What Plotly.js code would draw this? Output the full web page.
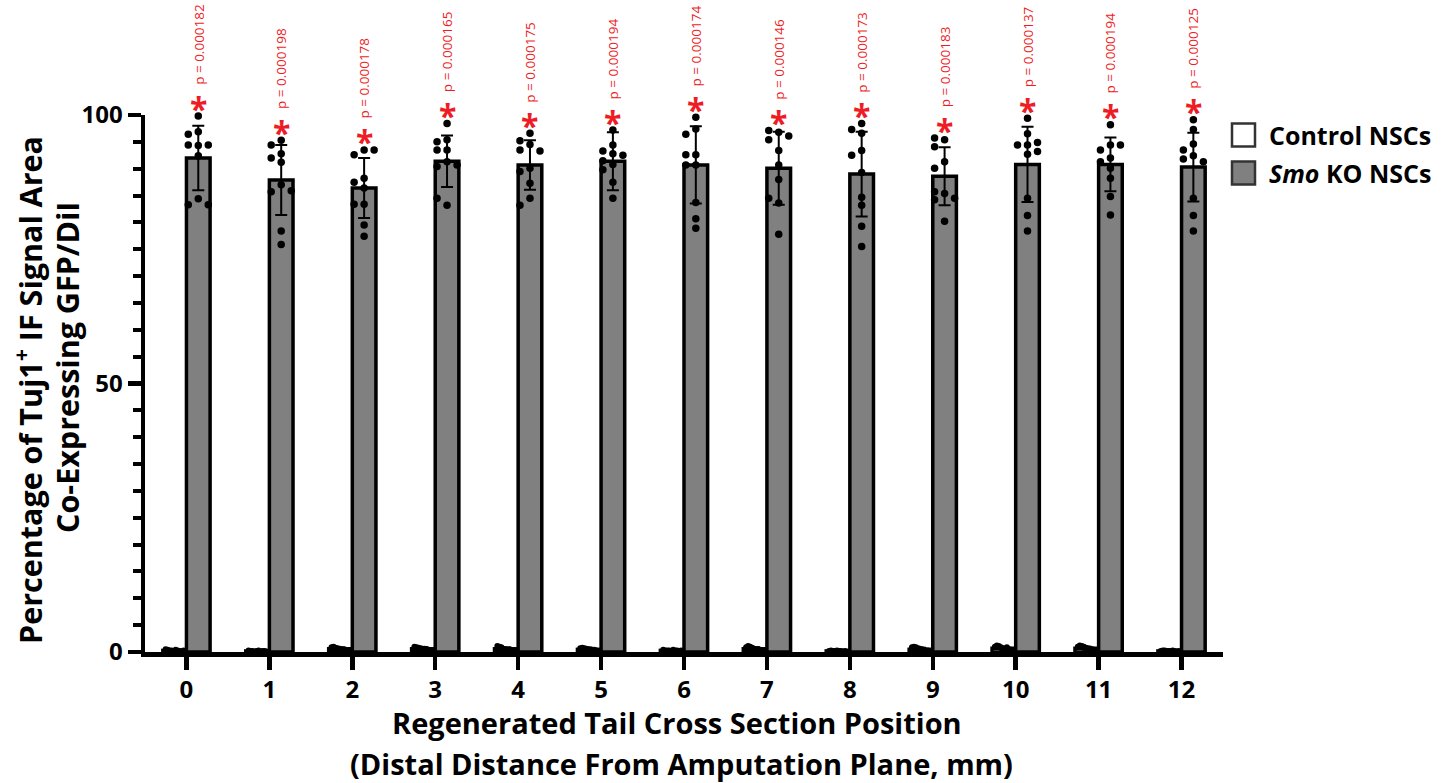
<!DOCTYPE html>
<html>
<head>
<meta charset="utf-8">
<script src="https://cdn.plot.ly/plotly-3.0.1.min.js"></script>
<style>html,body{margin:0;padding:0;background:#fff;}#chart{width:1455px;height:783px;}</style>
</head>
<body>
<div id="chart"></div>
<script>
// ---------------- data ----------------
const categories = [0, 1, 2, 3, 4, 5, 6, 7, 8, 9, 10, 11, 12];
const tickLabels = ['0','1','2','3','4','5','6','7','8','9','10','11','12'];

const koMean = [92.0, 87.9, 86.4, 91.4, 90.7, 91.4, 90.7, 90.1, 89.0, 88.6, 90.8, 90.8, 90.3];
const koSD   = [6.0, 6.5, 5.6, 4.8, 4.6, 5.4, 7.2, 6.8, 7.9, 5.4, 7.0, 5.0, 6.4];
const ctrlMean = [0.3, 0.2, 0.6, 0.6, 0.6, 0.5, 0.3, 0.6, 0.2, 0.5, 0.7, 0.7, 0.2];
const ctrlSD   = [0.2, 0.1, 0.3, 0.3, 0.3, 0.2, 0.2, 0.3, 0.1, 0.3, 0.3, 0.3, 0.1];

const pValues = ['0.000182','0.000198','0.000178','0.000165','0.000175','0.000194','0.000174',
                 '0.000146','0.000173','0.000183','0.000137','0.000194','0.000125'];

const ko0  = [99.8, 96.9, 96.4, 94.3, 94.4, 94.4, 92.4, 84.4, 83.3, 83.3];
const ko1  = [95.3, 94.4, 92.8, 92.0, 91.2, 87.0, 85.7, 85.9, 78.4, 75.9];
const ko2  = [93.5, 92.6, 93.5, 88.2, 87.5, 86.4, 83.4, 83.4, 79.5, 77.4];
const ko3  = [98.4, 95.4, 95.0, 93.5, 93.5, 91.3, 90.4, 90.7, 83.2, 84.5];
const ko4  = [96.6, 95.2, 94.5, 93.5, 93.3, 90.1, 89.5, 87.3, 84.5, 83.2];
const ko5  = [97.2, 94.4, 93.3, 92.8, 92.5, 91.5, 90.8, 89.8, 87.5, 84.5];
const ko6  = [99.6, 97.4, 96.4, 92.6, 92.6, 90.7, 90.7, 83.7, 80.7, 78.9];
const ko7  = [96.8, 97.1, 96.1, 95.4, 93.4, 90.7, 88.0, 83.6, 84.5, 77.8];
const ko8  = [98.4, 97.3, 96.6, 93.4, 92.5, 89.3, 84.7, 83.2, 79.3, 75.5];
const ko9  = [95.4, 95.7, 94.1, 91.3, 90.1, 85.4, 85.7, 84.2, 84.5, 80.2];
const ko10 = [99.4, 96.5, 94.4, 94.4, 94.9, 92.7, 93.2, 84.5, 81.3, 78.4];
const ko11 = [98.2, 94.4, 93.5, 94.4, 92.0, 91.3, 90.1, 88.2, 84.8, 81.4];
const ko12 = [99.1, 97.3, 94.6, 93.5, 92.4, 91.8, 91.3, 84.5, 81.3, 78.4];

const ctrl0  = [0.5, 0.4, 0.3, 0.3, 0.2, 0.4, 0.3, 0.2, 0.1, 0.3];
const ctrl1  = [0.3, 0.2, 0.2, 0.1, 0.2, 0.3, 0.1, 0.2, 0.2, 0.1];
const ctrl2  = [0.9, 1.0, 0.8, 0.7, 0.6, 0.5, 0.4, 0.4, 0.3, 0.3];
const ctrl3  = [1.0, 0.9, 0.8, 0.7, 0.6, 0.6, 0.5, 0.4, 0.3, 0.3];
const ctrl4  = [1.1, 1.0, 0.9, 0.6, 0.5, 0.4, 0.4, 0.3, 0.3, 0.2];
const ctrl5  = [0.7, 0.8, 0.7, 0.6, 0.5, 0.5, 0.4, 0.4, 0.3, 0.2];
const ctrl6  = [0.4, 0.3, 0.3, 0.3, 0.2, 0.4, 0.3, 0.3, 0.2, 0.3];
const ctrl7  = [0.9, 1.1, 1.0, 0.8, 0.6, 0.5, 0.5, 0.4, 0.3, 0.2];
const ctrl8  = [0.2, 0.3, 0.2, 0.2, 0.3, 0.2, 0.2, 0.1, 0.2, 0.1];
const ctrl9  = [0.9, 1.0, 0.9, 0.7, 0.6, 0.5, 0.4, 0.3, 0.3, 0.2];
const ctrl10 = [1.0, 1.2, 1.1, 0.9, 0.7, 0.6, 0.9, 0.5, 0.4, 0.3];
const ctrl11 = [1.0, 1.2, 1.1, 1.0, 0.8, 0.7, 0.6, 0.5, 0.4, 0.3];
const ctrl12 = [0.2, 0.3, 0.3, 0.2, 0.2, 0.2, 0.3, 0.2, 0.1, 0.2];

const koPoints = [ko0, ko1, ko2, ko3, ko4, ko5, ko6, ko7, ko8, ko9, ko10, ko11, ko12];
const ctrlPoints = [ctrl0, ctrl1, ctrl2, ctrl3, ctrl4, ctrl5, ctrl6, ctrl7, ctrl8, ctrl9, ctrl10, ctrl11, ctrl12];

// ---------------- layout constants ----------------
const W = 1455, H = 783;
const M = {l: 145, r: 232, t: 115, b: 131};
const plotW = W - M.l - M.r, plotH = H - M.t - M.b;
const xRange = [-0.5, 12.5], yRange = [0, 100];
const pxPerX = plotW / (xRange[1] - xRange[0]);
const pxPerY = plotH / (yRange[1] - yRange[0]);
const BARGAP = 0.43;
const barW = (1 - BARGAP) / 2;
const RED = '#ee1c25';
const FONT_B = {family: '"Open Sans", sans-serif', weight: 700, color: '#000'};

// beeswarm offsets for KO dots (in px), computed to avoid overlap
function swarm(vals, dotPx) {
  const placed = [];
  const cand = [0, -10, 10, -20, 20, -30, 30];
  return vals.map(v => {
    const yp = v * pxPerY;
    let off = 0;
    for (const c of cand) {
      const ok = placed.every(p => Math.hypot(p.x - c, p.y - yp) >= dotPx);
      if (ok) { off = c; break; }
    }
    placed.push({x: off, y: yp});
    return off;
  });
}

const koX = [], koY = [], ctX = [], ctY = [];
categories.forEach((c, i) => {
  const offs = swarm(koPoints[i], 7.6);
  koPoints[i].forEach((v, j) => { koX.push(c + barW / 2 + offs[j] / pxPerX); koY.push(v); });
  const n = ctrlPoints[i].length;
  ctrlPoints[i].forEach((v, j) => {
    const off = -9 + 18 * j / (n - 1);
    ctX.push(c - barW / 2 + off / pxPerX); ctY.push(v);
  });
});

const traces = [
  {type: 'bar', name: 'Control NSCs', x: categories, y: ctrlMean,
   marker: {color: '#ffffff', line: {color: '#000', width: 3.5}},
   error_y: {type: 'data', array: ctrlSD, color: '#000', thickness: 2, width: 5},
   showlegend: false, hoverinfo: 'skip'},
  {type: 'bar', name: 'Smo KO NSCs', x: categories, y: koMean,
   marker: {color: '#808080', line: {color: '#000', width: 3.5}},
   error_y: {type: 'data', array: koSD, color: '#000', thickness: 2, width: 6},
   showlegend: false},
  {type: 'scatter', mode: 'markers', x: ctX, y: ctY, cliponaxis: false,
   marker: {color: '#000', size: 6}, showlegend: false, hoverinfo: 'skip'},
  {type: 'scatter', mode: 'markers', x: koX, y: koY, cliponaxis: false,
   marker: {color: '#000', size: 7.5}, showlegend: false}
];

const annotations = [];
categories.forEach((c, i) => {
  const top = Math.max(...koPoints[i]);
  annotations.push({x: c + barW / 2, y: top, xref: 'x', yref: 'y', text: '*', showarrow: false,
    xanchor: 'center', yanchor: 'middle', yshift: 8, font: {family: '"Open Sans", sans-serif', size: 32, weight: 700, color: RED}});
  annotations.push({x: c + barW / 2, y: top, xref: 'x', yref: 'y', text: 'p = ' + pValues[i], showarrow: false,
    textangle: -90, yanchor: 'bottom', xanchor: 'center', yshift: 29,
    font: {family: '"Open Sans", sans-serif', size: 13.5, color: RED}});
});

// axis titles
function px2paperX(px) { return (px - M.l) / plotW; }
function px2paperY(py) { return (H - M.b - py) / plotH; }
const TITLE_SIZE = 29;
const YTITLE_SIZE = 30.5;
annotations.push({xref: 'paper', yref: 'paper', x: px2paperX(677), y: px2paperY(722), xanchor: 'center', yanchor: 'middle', showarrow: false,
  text: 'Regenerated Tail Cross Section Position', font: Object.assign({size: TITLE_SIZE}, FONT_B)});
annotations.push({xref: 'paper', yref: 'paper', x: px2paperX(681), y: px2paperY(763), xanchor: 'center', yanchor: 'middle', showarrow: false,
  text: '(Distal Distance From Amputation Plane, mm)', font: Object.assign({size: TITLE_SIZE}, FONT_B)});
annotations.push({xref: 'paper', yref: 'paper', x: px2paperX(28), y: px2paperY(390), xanchor: 'center', yanchor: 'middle', showarrow: false, textangle: -90,
  text: 'Percentage of Tuj1<sup>+</sup> IF Signal Area', font: Object.assign({size: YTITLE_SIZE}, FONT_B)});
annotations.push({xref: 'paper', yref: 'paper', x: px2paperX(67), y: px2paperY(368), xanchor: 'center', yanchor: 'middle', showarrow: false, textangle: -90,
  text: 'Co-Expressing GFP/DiI', font: Object.assign({size: YTITLE_SIZE}, FONT_B)});

// custom legend
const legendItems = [
  {label: 'Control NSCs', fill: '#ffffff', y0: 123.5, y1: 146.5},
  {label: '<i>Smo</i> KO NSCs', fill: '#808080', y0: 161.5, y1: 184.5}
];
const shapes = [];
legendItems.forEach(it => {
  shapes.push({type: 'rect', xref: 'paper', yref: 'paper',
    x0: px2paperX(1232), x1: px2paperX(1255), y0: px2paperY(it.y1), y1: px2paperY(it.y0),
    fillcolor: it.fill, line: {color: '#333', width: 2.5}});
  annotations.push({xref: 'paper', yref: 'paper', x: px2paperX(1267), y: px2paperY((it.y0 + it.y1) / 2),
    xanchor: 'left', yanchor: 'middle', showarrow: false, text: it.label, font: Object.assign({size: 25}, FONT_B)});
});

const layout = {
  width: W, height: H, margin: M,
  paper_bgcolor: '#fff', plot_bgcolor: '#fff',
  barmode: 'group', bargap: BARGAP, bargroupgap: 0,
  showlegend: false,
  xaxis: {range: xRange, tickmode: 'array', tickvals: categories, ticktext: tickLabels,
    showline: true, linecolor: '#000', linewidth: 4.5, ticks: 'outside', ticklen: 13, tickwidth: 4.5, tickcolor: '#000',
    showgrid: false, zeroline: false, tickfont: Object.assign({size: 24}, FONT_B)},
  yaxis: {range: yRange, tickmode: 'linear', tick0: 0, dtick: 50,
    showline: true, linecolor: '#000', linewidth: 4.5, ticks: 'outside', ticklen: 13, tickwidth: 4.5, tickcolor: '#000',
    minor: {tickmode: 'linear', tick0: 0, dtick: 5, ticks: 'outside', ticklen: 8, tickwidth: 4, tickcolor: '#000', showgrid: false},
    showgrid: false, zeroline: false, tickfont: Object.assign({size: 24}, FONT_B)},
  annotations: annotations,
  shapes: shapes
};

Plotly.newPlot('chart', traces, layout, {displayModeBar: false, staticPlot: true});
</script>
</body>
</html>
